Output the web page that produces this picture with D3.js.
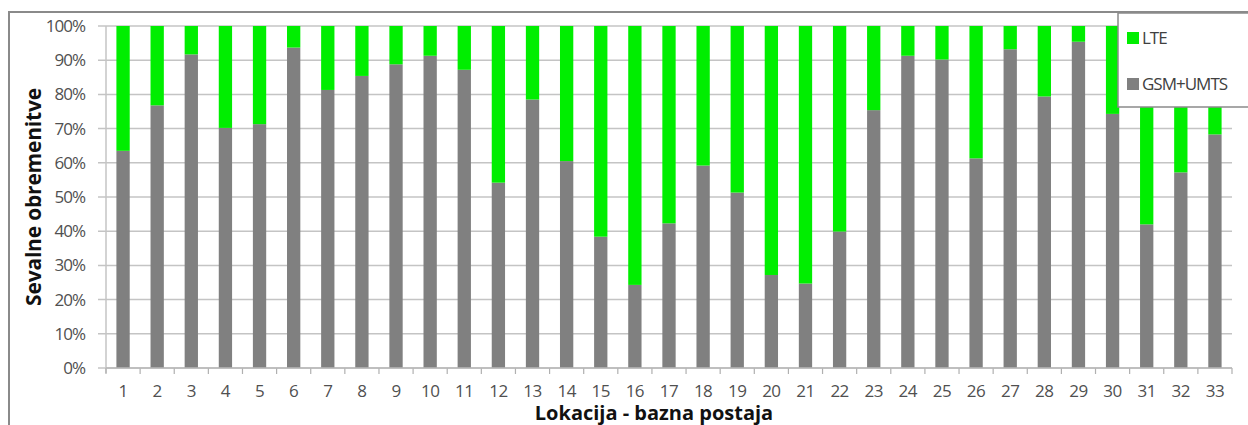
<!DOCTYPE html>
<html><head><meta charset="utf-8">
<script src="https://cdn.jsdelivr.net/npm/d3@7"></script>
<style>body{margin:0;background:#fff;} svg{display:block;}</style>
</head><body>
<svg id="c" width="1248" height="425"></svg>
<script>
const categories = d3.range(1, 34).map(String);
const gsmUmts = [63.5,76.8,91.7,70.2,71.3,93.7,81.3,85.4,88.8,91.3,87.2,54.2,78.5,60.5,38.4,24.3,42.3,59.2,51.3,27.2,24.7,39.9,75.4,91.3,90.2,61.3,93.2,79.4,95.4,74.3,42.0,57.2,68.3];
const lte = gsmUmts.map(v => 100 - v);
const yTicks = d3.range(0, 101, 10);
const seriesNames = ["LTE", "GSM+UMTS"];
const colors = {"LTE": "#00ee00", "GSM+UMTS": "#808080"};

const svg = d3.select("#c");
const m = {left: 106, right: 1232, top: 26, bottom: 368};
const FONT = "Open Sans, Liberation Sans, sans-serif";

// outer border
svg.append("rect").attr("x", 9).attr("y", 12).attr("width", 1260).attr("height", 430)
  .attr("fill", "none").attr("stroke", "#8a8a8a").attr("stroke-width", 2);

const x = d3.scaleBand().domain(categories).range([m.left, m.right]).paddingInner(0.61).paddingOuter(0.305);
const y = d3.scaleLinear().domain([0, 100]).range([m.bottom, m.top]);

// gridlines
svg.append("g").selectAll("line").data(yTicks).join("line")
  .attr("x1", m.left - 8).attr("x2", m.right)
  .attr("y1", d => y(d)).attr("y2", d => y(d))
  .attr("stroke", "#c4c4c4").attr("stroke-width", 1.5);

// y axis line
svg.append("line").attr("x1", m.left).attr("x2", m.left).attr("y1", m.top).attr("y2", m.bottom + 5)
  .attr("stroke", "#c4c4c4").attr("stroke-width", 1.5);

const stackData = categories.map((c, i) => ({cat: c, "GSM+UMTS": gsmUmts[i], "LTE": lte[i]}));
const stack = d3.stack().keys(["GSM+UMTS", "LTE"])(stackData);
svg.append("g").selectAll("g").data(stack).join("g")
  .attr("fill", s => colors[s.key])
  .selectAll("rect").data(s => s).join("rect")
  .attr("x", d => x(d.data.cat)).attr("width", x.bandwidth())
  .attr("y", d => y(d[1])).attr("height", d => y(d[0]) - y(d[1]));

// x axis ticks
const tickPos = d3.range(0, categories.length + 1).map(i => m.left + i * (m.right - m.left) / categories.length);
svg.append("g").selectAll("line").data(tickPos).join("line")
  .attr("x1", d => d).attr("x2", d => d).attr("y1", m.bottom).attr("y2", m.bottom + 6)
  .attr("stroke", "#b0b0b0").attr("stroke-width", 1.2);
svg.append("line").attr("x1", m.left).attr("x2", m.right).attr("y1", m.bottom).attr("y2", m.bottom)
  .attr("stroke", "#b8b8b8").attr("stroke-width", 1.5);

// x labels
svg.append("g").selectAll("text").data(categories).join("text")
  .attr("x", d => x(d) + x.bandwidth() / 2).attr("y", 397)
  .attr("text-anchor", "middle").attr("font-family", FONT)
  .attr("font-size", 17).attr("letter-spacing", -0.5).attr("fill", "#505050").text(d => d);

// y labels
svg.append("g").selectAll("text").data(yTicks).join("text")
  .attr("x", 85).attr("y", d => y(d) + 6)
  .attr("text-anchor", "end").attr("font-family", FONT)
  .attr("font-size", 17).attr("letter-spacing", -1).attr("fill", "#505050").text(d => d + "%");

// axis titles
svg.append("text").attr("transform", "translate(41,197) rotate(-90)")
  .attr("text-anchor", "middle").attr("font-family", FONT)
  .attr("font-weight", "bold").attr("font-size", 21).attr("letter-spacing", -0.2).attr("fill", "#111").text("Sevalne obremenitve");
svg.append("text").attr("x", 654).attr("y", 420)
  .attr("text-anchor", "middle").attr("font-family", FONT)
  .attr("font-weight", "bold").attr("font-size", 20).attr("letter-spacing", 0).attr("fill", "#111").text("Lokacija - bazna postaja");

// legend
const lg = svg.append("g");
lg.append("rect").attr("x", 1118).attr("y", 13).attr("width", 140).attr("height", 94)
  .attr("fill", "#fff").attr("stroke", "#8a8a8a").attr("stroke-width", 1.5);
const ly = [38, 84];
seriesNames.forEach((n, i) => {
  lg.append("rect").attr("x", 1127).attr("y", ly[i] - 6).attr("width", 12).attr("height", 12).attr("fill", colors[n]);
  lg.append("text").attr("x", 1142).attr("y", ly[i] + 6)
    .attr("font-family", FONT).attr("font-size", 17)
    .attr("letter-spacing", -1).attr("fill", "#404040").text(n);
});
</script>
</body></html>
